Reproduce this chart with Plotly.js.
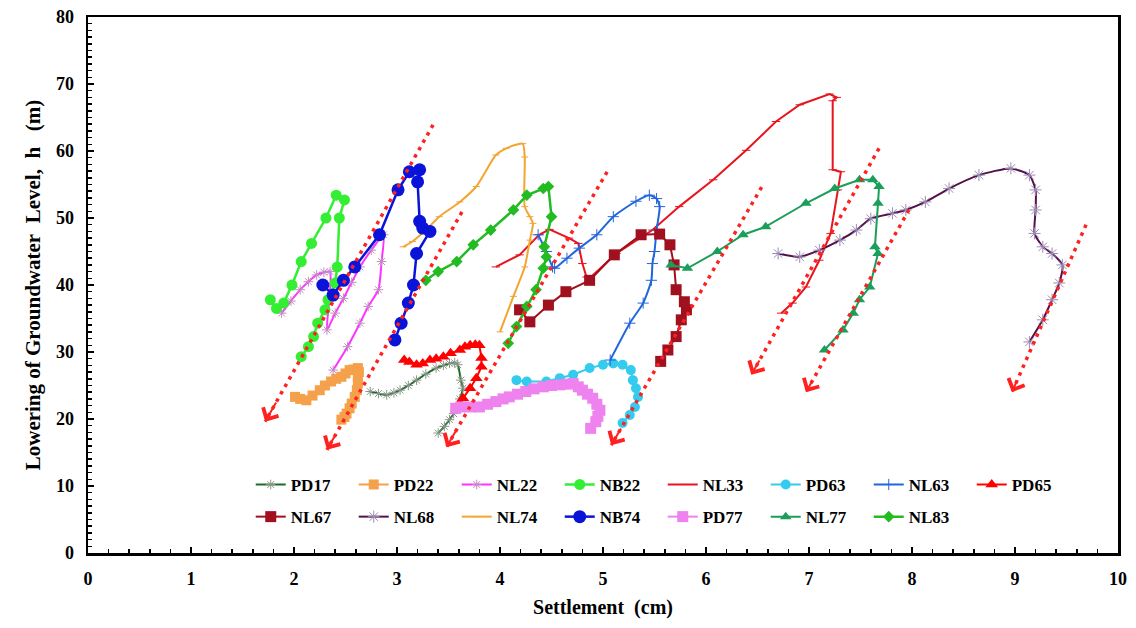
<!DOCTYPE html>
<html>
<head>
<meta charset="utf-8">
<script src="https://cdn.plot.ly/plotly-3.0.1.min.js"></script>
<style>html,body{margin:0;padding:0;background:#fff;}#chart{width:1136px;height:628px;}</style>
</head>
<body>
<div id="chart"></div>
<script>
// ---- data (settlement in cm, lowering of groundwater level in m) ----
const seriesNames = ["PD17","PD22","NL22","NB22","NL33","PD63","NL63","PD65","NL67","NL68","NL74","NB74","PD77","NL77","NL83"];

const pd17X = [2.74,2.82,2.90,2.97,3.03,3.11,3.19,3.28,3.38,3.45,3.51,3.56,3.59,3.62,3.64,3.61,3.58,3.55,3.51,3.46,3.40];
const pd17Y = [24.1,23.8,23.6,23.9,24.3,25.0,25.8,26.7,27.6,28.0,28.3,28.4,28.1,25.8,24.6,23.0,21.8,20.8,19.9,18.9,17.9];

const pd22X = [2.01,2.06,2.12,2.18,2.25,2.30,2.36,2.41,2.46,2.50,2.54,2.58,2.62,2.63,2.62,2.62,2.61,2.59,2.56,2.54,2.51,2.49,2.46];
const pd22Y = [23.3,23.0,22.8,23.5,24.3,25.0,25.6,26.0,26.3,26.8,27.3,27.4,27.6,27.0,26.3,25.3,24.3,23.3,22.3,21.6,20.8,20.3,19.9];

const nl22X = [1.88,1.97,2.06,2.14,2.22,2.29,2.35,2.34,2.32,2.40,2.48,2.56,2.64,2.75,2.87,2.85,2.82,2.72,2.64,2.52,2.38];
const nl22Y = [35.8,37.6,39.3,40.5,41.5,41.9,42.0,37.5,33.3,35.8,38.0,40.4,42.7,45.2,47.5,43.5,39.3,36.8,34.3,30.8,27.3];

const nb22X = [1.77,1.83,1.90,1.98,2.07,2.17,2.31,2.41,2.49,2.44,2.42,2.40,2.33,2.30,2.23,2.19,2.14,2.07];
const nb22Y = [37.8,36.5,37.3,40.0,43.5,46.2,50.0,53.4,52.7,50.0,42.7,40.3,37.8,36.3,34.3,32.3,30.8,29.3];

const nl33X = [3.96,4.19,4.38,4.48,4.67,4.76,4.80,4.84,4.87,5.13,5.48,5.74,6.07,6.39,6.68,6.91,7.20,7.27,7.23,7.23,7.31,7.28,7.21,7.10,6.97,6.84,6.73];
const nl33Y = [42.7,44.5,47.5,48.3,47.0,46.2,43.2,41.2,41.0,44.7,48.2,51.7,55.7,60.1,64.4,66.9,68.5,68.0,67.5,57.2,56.9,54.2,47.7,43.7,39.7,37.3,35.8];

const pd63X = [4.16,4.26,4.45,4.58,4.71,4.87,5.00,5.10,5.19,5.27,5.29,5.32,5.34,5.31,5.26,5.19];
const pd63Y = [25.8,25.6,25.6,26.1,26.6,27.6,28.1,28.3,28.1,27.3,25.8,24.6,23.3,21.8,20.6,19.4];

const nl63X = [4.37,4.45,4.51,4.53,4.65,4.77,4.94,5.10,5.32,5.45,5.52,5.55,5.52,5.50,5.48,5.47,5.39,5.26,5.07];
const nl63Y = [47.5,45.0,42.7,42.5,44.0,45.5,47.5,50.2,52.5,53.4,52.9,51.7,48.2,45.0,43.2,40.7,37.3,34.3,28.8];

const pd65X = [3.07,3.12,3.19,3.25,3.32,3.38,3.45,3.52,3.61,3.66,3.71,3.76,3.80,3.82,3.82,3.77,3.71,3.64,3.61];
const pd65Y = [28.8,28.5,28.1,28.3,28.8,29.0,29.3,29.8,30.3,30.8,31.0,31.1,31.0,29.1,27.8,26.1,24.6,23.1,22.4];

const nl67X = [4.19,4.29,4.47,4.64,4.87,5.11,5.37,5.55,5.65,5.69,5.71,5.79,5.81,5.76,5.71,5.63,5.56];
const nl67Y = [36.3,34.5,37.0,39.0,40.7,44.5,47.5,47.6,46.0,43.0,39.3,37.5,36.3,34.8,32.3,30.3,28.6];

const nl68X = [6.70,6.91,7.10,7.30,7.46,7.60,7.81,7.94,8.13,8.36,8.65,8.96,9.14,9.20,9.20,9.19,9.27,9.36,9.46,9.43,9.36,9.27,9.14];
const nl68Y = [44.7,44.2,45.2,46.7,48.2,49.9,50.7,51.2,52.4,54.4,56.4,57.4,56.4,54.2,51.2,47.7,45.7,44.7,43.0,40.3,37.8,34.8,31.5];

const nl74X = [3.06,3.15,3.28,3.41,3.61,3.77,3.96,4.06,4.22,4.24,4.24,4.29,4.32,4.29,4.24,4.13,4.00];
const nl74Y = [45.7,46.5,48.2,50.2,52.4,54.7,59.4,60.4,61.1,59.1,51.7,50.2,49.2,46.7,42.7,38.3,33.0];

const nb74X = [2.28,2.38,2.48,2.59,2.83,3.01,3.12,3.22,3.20,3.22,3.25,3.32,3.19,3.16,3.11,3.04,2.98];
const nb74Y = [40.0,38.5,40.7,42.7,47.5,54.2,56.9,57.2,55.4,49.5,48.5,48.0,44.7,40.0,37.3,34.3,31.8];

const pd77X = [3.57,3.62,3.71,3.80,3.88,3.96,4.03,4.09,4.17,4.25,4.33,4.42,4.50,4.58,4.65,4.71,4.76,4.80,4.85,4.90,4.94,4.97,4.95,4.93,4.88];
const pd77Y = [21.6,21.8,21.8,21.8,22.2,22.6,23.0,23.3,23.7,24.1,24.5,24.8,25.0,25.1,25.2,25.3,24.8,24.3,23.7,23.1,22.2,21.3,20.4,19.6,18.6];

const nl77X = [5.66,5.82,6.11,6.36,6.58,6.97,7.25,7.49,7.62,7.68,7.67,7.64,7.67,7.59,7.49,7.43,7.33,7.15];
const nl77Y = [43.0,42.5,45.0,47.5,48.7,52.2,54.4,55.7,55.7,54.7,52.2,45.7,44.7,39.7,37.8,35.8,33.3,30.3];

const nl83X = [3.28,3.40,3.58,3.74,3.91,4.13,4.26,4.42,4.47,4.50,4.43,4.45,4.42,4.35,4.26,4.16,4.08];
const nl83Y = [40.7,42.0,43.5,46.0,48.2,51.2,53.4,54.4,54.7,50.2,45.7,44.2,42.5,39.3,36.8,33.8,31.3];

// red dotted trend arrows: tip (arrow head) and upper end
const arrowTipX = [1.72,2.32,3.48,5.08,6.44,6.97,8.97];
const arrowTipY = [19.6,15.4,15.8,16.1,26.6,24.0,24.0];
const arrowEndX = [3.35,3.63,5.04,6.54,7.68,7.97,9.69];
const arrowEndY = [63.9,50.9,56.9,54.6,60.4,51.2,49.0];

// ---- styles ----
const seriesData = [
  [pd17X,pd17Y],[pd22X,pd22Y],[nl22X,nl22Y],[nb22X,nb22Y],[nl33X,nl33Y],[pd63X,pd63Y],[nl63X,nl63Y],[pd65X,pd65Y],
  [nl67X,nl67Y],[nl68X,nl68Y],[nl74X,nl74Y],[nb74X,nb74Y],[pd77X,pd77Y],[nl77X,nl77Y],[nl83X,nl83Y]
];
const styles = [
  {c:'#1e6b28', sym:'asterisk-open', sz:8, mc:'#8a968a', lw:2},
  {c:'#f5a04a', sym:'square', sz:10, lw:2},
  {c:'#ff33ff', sym:'asterisk-open', sz:8, mc:'#c48ac4', lw:2},
  {c:'#33ee33', sym:'circle', sz:11, lw:2.5},
  {c:'#e8141e', sym:'line-ew-open', sz:6, lw:2},
  {c:'#33ccee', sym:'circle', sz:10, lw:2},
  {c:'#2266dd', sym:'cross-thin-open', sz:8, lw:2},
  {c:'#ff0000', sym:'triangle-up', sz:11, lw:2},
  {c:'#a0101e', sym:'square', sz:11, lw:2},
  {c:'#55104a', sym:'asterisk-open', sz:10, mc:'#9a8cb4', lw:2},
  {c:'#f2a530', sym:'line-ew-open', sz:5, lw:2},
  {c:'#0a14d8', sym:'circle', sz:13, lw:2.5},
  {c:'#ee82ee', sym:'square', sz:11, lw:2},
  {c:'#1a9e5a', sym:'triangle-up', sz:10, lw:2},
  {c:'#22bb22', sym:'diamond', sz:9, lw:2.5}
];
const smoothSet = {NL63:1, NL68:1, NL74:1, PD17:1, NL22:1};

const traces = [];
seriesNames.forEach((name,i)=>{
  const s = styles[i];
  const open = s.sym.indexOf('open')>=0;
  traces.push({
    type:'scatter', mode:'lines+markers', name:name,
    x: seriesData[i][0], y: seriesData[i][1],
    legend: i < 8 ? 'legend' : 'legend2',
    line:{color:s.c, width:s.lw, shape: smoothSet[name] ? 'spline' : 'linear', smoothing:0.6},
    marker: open ? {symbol:s.sym, size:s.sz, color:s.mc||s.c, line:{color:s.mc||s.c, width:1}}
                 : {symbol:s.sym, size:s.sz, color:s.c, line:{width:0}}
  });
});

const annotations = [];
for (let k=0;k<arrowTipX.length;k++){
  traces.push({
    type:'scatter', mode:'lines', showlegend:false, hoverinfo:'skip',
    x:[arrowEndX[k], arrowTipX[k]], y:[arrowEndY[k], arrowTipY[k]],
    line:{color:'#ff2020', width:3.5, dash:'3.5px,5px'}
  });
  annotations.push({
    x: arrowTipX[k], y: arrowTipY[k], xref:'x', yref:'y',
    ax: arrowTipX[k] + 0.07*(arrowEndX[k]-arrowTipX[k]),
    ay: arrowTipY[k] + 0.07*(arrowEndY[k]-arrowTipY[k]),
    axref:'x', ayref:'y', text:'', showarrow:true,
    arrowhead:4, arrowsize:1.7, arrowwidth:2, arrowcolor:'#ff2020'
  });
}

const serif = 'Liberation Serif, Times New Roman, serif';
const nb = '\u00a0';
const legendCommon = {
  orientation:'h', xanchor:'left', yanchor:'middle', x:0.158,
  entrywidth:58, entrywidthmode:'pixels', itemwidth:30,
  bgcolor:'rgba(0,0,0,0)', borderwidth:0,
  font:{family:serif, size:17, color:'#000', weight:'bold'}, traceorder:'normal'
};

const layout = {
  width:1136, height:628,
  margin:{l:88, r:18, t:17, b:75},
  paper_bgcolor:'#fff', plot_bgcolor:'#fff',
  font:{family:serif, color:'#000'},
  showlegend:true,
  legend: Object.assign({}, legendCommon, {y:0.127}),
  legend2: Object.assign({}, legendCommon, {y:0.067}),
  xaxis:{
    range:[0,10], dtick:1, tick0:0, showgrid:false, zeroline:false,
    showline:true, linecolor:'#000', linewidth:2.5, mirror:true,
    ticks:'inside', ticklen:6, tickwidth:2, tickcolor:'#000',
    minor:{dtick:0.2, ticks:'inside', ticklen:4, tickwidth:1.5, tickcolor:'#000', showgrid:false},
    tickfont:{family:serif, size:18, weight:'bold', color:'#000'},
    ticklabelstandoff:8,
    title:{text:'Settlement'+nb+nb+'(cm)'+nb.repeat(24), font:{family:serif, size:20, weight:'bold', color:'#000'}, standoff:12}
  },
  yaxis:{
    range:[0,80], dtick:10, tick0:0, showgrid:false, zeroline:false,
    showline:true, linecolor:'#000', linewidth:2.5, mirror:true,
    ticks:'inside', ticklen:6, tickwidth:2, tickcolor:'#000',
    minor:{dtick:1, ticks:'inside', ticklen:3.5, tickwidth:1.5, tickcolor:'#000', showgrid:false},
    tickfont:{family:serif, size:18, weight:'bold', color:'#000'},
    ticklabelstandoff:8,
    title:{text:'Lowering of Groundwater'+nb+nb+'Level,'+nb+nb+'h'+nb+nb+nb+'(m)', font:{family:serif, size:21, weight:'bold', color:'#000'}, standoff:10}
  },
  annotations: annotations
};

Plotly.newPlot('chart', traces, layout, {displayModeBar:false, staticPlot:true});
</script>
</body>
</html>
